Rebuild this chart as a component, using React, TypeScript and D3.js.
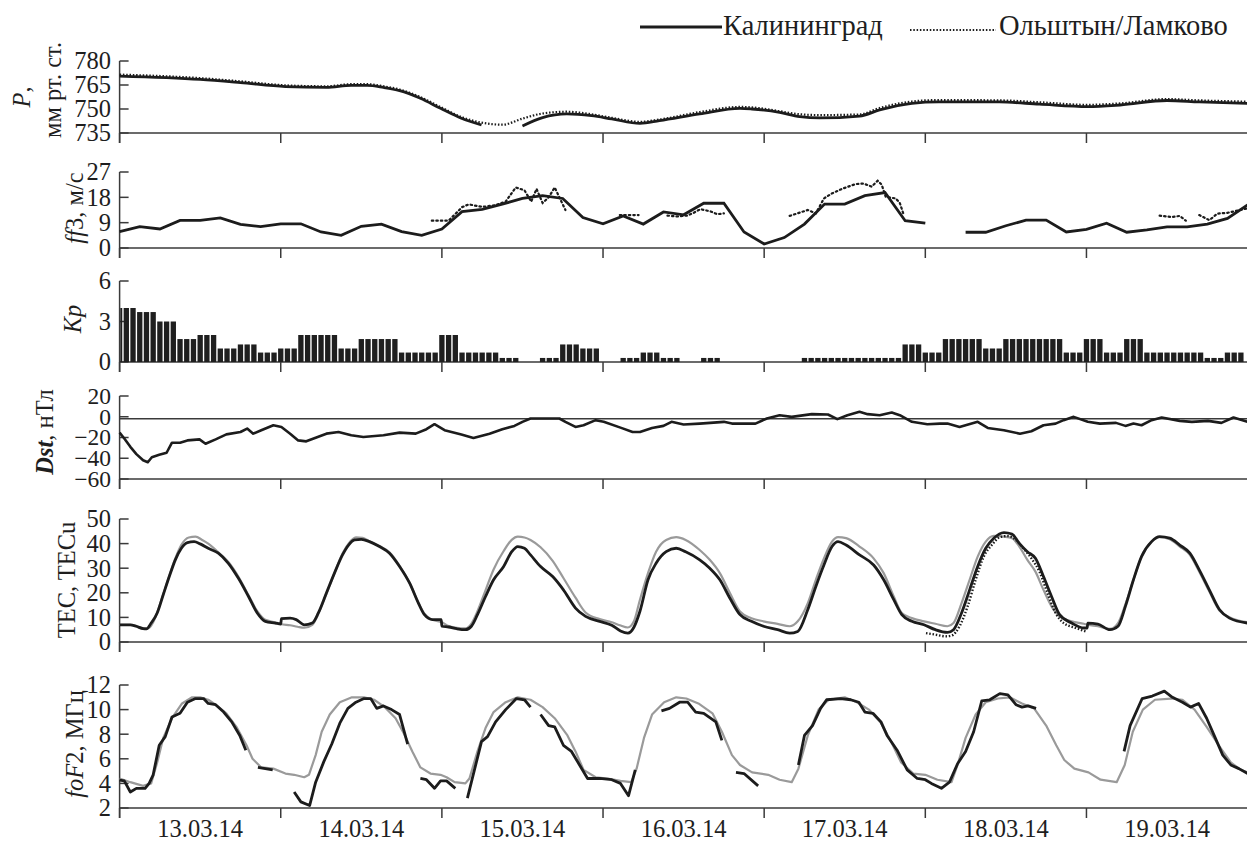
import React from 'react';
import * as d3 from 'd3';

type P2 = [number, number] | null;

// ---------- DATA (hours since 13.03.14 00:00) ----------
const dayLabels = ['13.03.14', '14.03.14', '15.03.14', '16.03.14', '17.03.14', '18.03.14', '19.03.14'];

const pressureKal: P2[] = [[0,770.6],[12,768.5],[18,766.5],[24.7,764],[30.8,763.5],[34.5,764.8],[36.9,764.8],[39.3,763.5],[41.7,761.5],[44.8,756.7],[47.8,750.4],[50.9,744.2],[53.9,740],null,[60,739.4],[63,744.6],[66.6,746.9],[70.3,745.8],[73.3,743.8],[77.5,741],[80.4,742.7],[86.4,746.9],[92.4,750.4],[94.2,750],[98.3,747.9],[101.3,745.2],[104.3,744.4],[110.2,745.6],[113.2,749.4],[118,753.5],[122,754.4],[131,754.4],[137,753],[144.2,751.5],[149,752.5],[156,755.3],[160.8,754.4],[168,753.5]];
const pressureOl: P2[] = [[0,771.5],[12,769.3],[18,767.3],[24.7,764.8],[30.8,764.2],[34.5,765.5],[36.9,765.5],[39.3,764.2],[41.7,762.2],[44.8,757.4],[47.8,751.2],[50.9,745],[53.9,741.5],[57,740.2],[60,744],[63,747.2],[66.6,748.3],[70.3,746.7],[73.3,744.5],[77.5,742],[80.4,743.4],[86.4,748.1],[92.4,751.3],[94.2,751],[98.3,748.6],[101.3,746.7],[104.3,746.2],[110.2,746.6],[113.2,750.6],[118,754.7],[122,755.6],[131,755.4],[137,754.2],[144.2,752.6],[149,753.5],[156,756.2],[160.8,755.4],[168,754.6]];

// 3-hourly wind at Kaliningrad (null = no data)
const windKal: (number | null)[] = [5.8,7.6,6.75,9.8,9.8,10.7,8.4,7.6, 8.6,8.6,5.7,4.5,7.7,8.5,5.8,4.5, 6.75,12.9,13.7,15.6,17.6,18.6,17.6,10.8, 8.6,11.4,8.5,12.8,11.8,15.9,15.9,5.7, 1.4,3.7,8.5,15.6,15.6,18.6,19.7,9.7, 8.8,null,5.6,5.6,7.9,9.9,9.9,5.7, 6.6,8.8,5.6,6.4,7.5,7.5,8.5,10.5, 15.3];
const windOl: P2[] = [[46.5,9.7],[49,9.7],[51,14.5],[52,15.5],[54,14.6],[56,15.2],[57.5,16.5],[59,21.5],[60.3,20.5],[61.3,16.5],[62.1,21],[63,16],[63.9,18],[64.8,21.5],[65.6,17.5],[66.4,13.5],null,[74.5,11.7],[77.3,11.7],null,[81.6,11.5],[83,11.2],[84.5,11.5],[85.5,12.5],[86.5,13.8],[88,13],[89,12],[90,12.3],null,[99.8,11.4],[102.5,13.5],[103.7,12.3],[104.9,17.6],[106,19.3],[107.8,21.2],[109.6,22.7],[110.8,22.9],[112,21.8],[112.9,23.9],[113.5,22.5],[114.1,18.2],[115.6,17.6],[116.2,16],[116.8,11.7],null,[154.9,11.5],[156.7,11],[157.9,11.4],[158.8,9.7],null,[160.8,11.7],[162.3,9.9],[163.5,12.2],[165,12.5],[166.5,13.3],[168,14.1]];

// 3-hourly Kp
const kp3h: number[] = [4,3.7,3,1.7,2,1,1.3,0.7, 1,2,2,1,1.7,1.7,0.7,0.7, 2,0.7,0.7,0.3,0,0.3,1.3,1, 0,0.3,0.7,0.3,0,0.3,0,0, 0,0,0.3,0.3,0.3,0.3,0.3,1.3, 0.7,1.7,1.7,1,1.7,1.7,1.7,0.7, 1.7,0.7,1.7,0.7,0.7,0.7,0.3,0.7];

const dst: P2[] = [[0,-15.3],[0.7,-21],[1.6,-29],[2.5,-36],[3.5,-42],[4.2,-43.8],[4.8,-39],[5.9,-36.7],[7,-34.7],[7.8,-25],[9,-25],[10.1,-22.8],[11.9,-21.8],[12.8,-26],[14.3,-21.8],[15.9,-17],[18,-14.7],[19,-11.4],[19.9,-16.3],[21.1,-13],[22.9,-8.2],[24.1,-9.8],[25.4,-16.3],[26.6,-22.8],[27.8,-23.7],[30.8,-16.3],[32.6,-14.7],[34.5,-17.9],[36.3,-19.5],[39.3,-17.9],[41.7,-15.3],[44.1,-16.3],[45.7,-12],[46.9,-7.2],[48.4,-13],[50.9,-17.2],[52.7,-20.5],[55.1,-16.3],[57,-12],[58.8,-8.8],[60,-4.9],[61.2,-1.7],[65.5,-1.7],[66.4,-4.9],[67.9,-9.8],[69.1,-8.2],[70.9,-3.3],[72.1,-4.9],[74.6,-10.5],[76.4,-14.7],[77.5,-14.7],[79.3,-10.8],[81,-8.8],[82.2,-4.9],[84,-7.5],[86.4,-6.6],[90,-4.9],[91.2,-6.6],[94.7,-6.6],[96.4,-1.7],[98.3,1.5],[100.1,-0.1],[103.1,2.5],[105.5,2.2],[106.9,-2.3],[108.4,1.5],[110.2,4.8],[111.4,2.5],[113.2,1.5],[115,4.1],[116.2,1.5],[118,-4.9],[120.3,-7.2],[122.2,-6.6],[123.3,-6.6],[125.1,-9.8],[127.8,-4.9],[129.3,-10.8],[131.7,-13],[134.1,-16.3],[135.8,-14],[137.6,-8.2],[139.4,-6.6],[140.6,-3.3],[142.1,-0.1],[144.2,-4.9],[146,-6.6],[148.4,-5.9],[149.8,-8.8],[151,-6.6],[152.2,-8.2],[153.7,-3.3],[155.2,-0.7],[157.9,-4],[159.7,-4.9],[162.1,-4],[164.1,-5.9],[165.9,-0.7],[168,-4.9]];
const dstRef = -2;

const tecKal: P2[] = [[0,7],[1.6,7],[2.5,6.4],[3.5,5.4],[4,5.3],[4.7,7.7],[5.6,11.8],[6.5,19.2],[7.4,26.6],[8.3,33.4],[9.2,38.1],[10.1,40.4],[11.1,40.8],[12,39.9],[13.2,38.1],[14.7,36.1],[16.2,32],[17.7,25.9],[19.2,18.5],[20.5,11.8],[21.7,8.4],[23.2,7.7],[24,7.3],[24.1,9.5],[25.4,9.7],[26.3,9.1],[27.5,7],[28.7,7.7],[29.6,11.8],[30.8,19.9],[32,28],[33.2,35.4],[34.1,39.4],[35,41.5],[36,41.7],[37.2,40.8],[38.7,38.8],[40.2,36.1],[41.7,30.7],[43.2,23.9],[44.5,15.8],[45.4,11.1],[46.6,9.1],[47.9,9.1],[48,6.4],[49,6.1],[50.2,5.4],[51.5,5],[52.4,6.4],[53.3,11.1],[54.5,18.5],[55.7,25.3],[57.2,30.7],[58.4,36.7],[59.3,38.8],[60.3,38.1],[61.2,35.4],[62.7,30.7],[64.5,26.6],[66.1,21.2],[67.9,13.8],[69.4,10.4],[71.5,8.4],[73.3,6.8],[74.6,4.5],[75.7,3.6],[76.6,6],[77.5,12.5],[78.7,25.3],[79.9,32],[81.4,36.7],[82.9,38.1],[84.3,36.7],[86.4,33.4],[87.9,30],[89.4,25.3],[90.9,17.8],[92.4,11.1],[94.1,8.4],[95.9,6.4],[98,5],[99.8,3.6],[101,4.3],[102.5,13.2],[103.7,22.6],[104.9,31.3],[106.1,38.8],[107,40.8],[108.2,39.4],[110.2,35.4],[112.3,31.3],[113.8,25.3],[115.3,17.2],[116.5,11.1],[118,8.4],[119.8,7],[121.5,5],[123.3,3.9],[124.2,5],[125.4,11.8],[126.6,21.2],[127.8,30.7],[129,38.1],[130.2,42.2],[131.7,44.5],[132.9,43.9],[134,40.1],[135.2,36.7],[136.4,34],[137.6,26.6],[138.8,18.5],[140,11.1],[141.8,7.7],[143.6,5.7],[144.1,5.7],[144.2,7.7],[145.7,7.3],[147.5,5],[148.7,6.4],[149.8,14.5],[151,25.3],[152.2,34.7],[153.7,40.8],[154.9,42.8],[156.4,42.2],[157.9,39.4],[159.4,36.1],[160.8,29.3],[162.3,21.2],[163.8,13.2],[165.3,9.7],[168,7.7]];
const tecGrey: P2[] = [[0,7],[1.6,7],[2.5,6.4],[3.5,5.6],[4.3,5.6],[5,8],[5.6,12],[6.5,19.5],[7.4,27],[8.3,34],[9.2,39.5],[10.3,42.5],[11.3,42.8],[12.3,41.5],[13.2,40],[14.7,36.5],[16.2,32.5],[17.7,26.5],[19.2,19],[20.5,12.5],[21.7,9],[23.2,8],[24,7.3],[25.4,6.8],[26.5,6.2],[27.5,5.8],[28.7,7],[29.6,11.5],[30.8,19.5],[32,28],[33.2,36],[34.1,40],[35.2,42.5],[36.2,42.3],[37.2,41],[38.7,39],[40.2,36.5],[41.7,31],[43.2,24],[44.5,16],[45.4,11.5],[46.6,9],[48,8],[49,6.5],[50.2,5.8],[51.5,5.5],[52.4,7.5],[53.3,12.5],[54.5,21],[55.7,29.5],[57.2,37],[58.4,41.5],[59.3,42.8],[60.3,42.5],[61.2,41.5],[62.7,38.5],[64.5,33],[66.1,26],[67.9,18],[69.4,12],[71.5,9.3],[73.3,8],[74.5,6.8],[75.7,5.9],[76.6,8.4],[77.5,17.2],[78.7,28],[79.9,36.7],[81.4,41.5],[82.9,42.6],[84.3,41.5],[86.4,37.4],[87.9,33.4],[89.4,28],[90.9,19.9],[92.4,12.4],[94.1,9.7],[95.9,8.4],[98,7.4],[99.8,6.4],[101,8.4],[102.5,15.8],[103.7,25.3],[104.9,34],[106.1,40.8],[107,42.6],[108.2,42.2],[110.2,38.8],[112.3,34],[113.8,28],[115.3,18.5],[116.5,11.8],[118,9.7],[119.8,8.4],[121.5,7.4],[123.3,6.4],[124.2,7.7],[125.4,15.8],[126.6,25.3],[127.8,34.7],[129,40.8],[130.2,43.1],[131.7,42.8],[132.9,42.2],[134,38.8],[135.2,33.4],[136.4,28.6],[137.6,21.2],[138.8,14.5],[140,10.4],[141.8,8.4],[143.6,7.4],[144.2,7],[145.7,6.4],[147.5,5.3],[148.7,7.7],[149.8,15.3],[151,25.3],[152.2,34.7],[153.7,40.8],[154.9,42.6],[156.4,41.8],[157.9,38.8],[159.4,35.4],[160.8,28.6],[162.3,20.5],[163.8,12.8],[165.3,10.1],[168,8]];
const tecOl: P2[] = [[120.1,3.6],[121.5,3],[123,2.3],[123.9,2.6],[125.1,6.4],[126.3,14.5],[127.5,25.3],[128.7,34.7],[129.9,39.4],[131.1,42.6],[132.3,43.1],[133.5,41.5],[134.6,38.1],[135.8,34],[137,28.6],[138.2,19.9],[139.4,11.8],[140.6,7.7],[142.4,5.7],[143.9,4.3]];

const fof2Kal: P2[] = [[0,4.26],[0.7,4.2],[1.6,3.3],[2.5,3.6],[3.8,3.6],[4.4,4],[5,4.7],[5.9,7.1],[6.8,7.8],[7.8,9.4],[9,9.7],[10.1,10.6],[11.3,10.9],[12.5,10.9],[13.2,10.5],[14.3,10.4],[15.5,9.8],[16.7,9],[17.9,7.9],[18.8,6.7],null,[20.6,5.3],[22.8,5.1],null,[26,3.3],[27,2.5],[28.3,2.2],[29.2,4.1],[30.4,5.75],[31.6,7.2],[32.8,8.9],[34,10.1],[35.2,10.6],[36.4,10.9],[37.4,10.9],[38.3,10.1],[39.3,10.3],[40.5,10],[41.7,9.6],[42.9,7.2],null,[44.8,4.4],[45.7,4.3],[46.9,3.6],[47.8,4.2],[48.7,4.2],[50,3.6],null,[51.8,2.8],[53.9,7.4],[54.8,7.8],[56,9],[57.5,10],[59.1,10.9],[60.3,10.8],[61.2,10.2],null,[62.7,9.6],[63.9,8.7],[64.8,8.6],[66.1,7.1],[67.3,6.6],[68.5,5.5],[69.7,4.4],[71.5,4.4],[73.3,4.3],[74.6,4],[75.8,3],[76.8,5.1],null,[80.7,9.9],[81.9,10.1],[83.4,10.6],[84.6,10.6],[85.8,9.8],[87,9.7],[88.8,9],[89.7,7.5],null,[91.8,4.9],[93,4.8],[95.1,3.8],null,[101.1,5.5],[102,7.9],[103.2,8.7],[104.4,10.1],[105.3,10.8],[107.4,10.9],[108.9,10.8],[110.1,10.6],[111,9.8],[112.2,9.7],[113.4,9],[114.3,7.9],[115.8,6.7],[117.3,5.1],[118.8,4.4],[120,4.3],[120.9,4],[122.4,3.6],[123.6,4.1],[124.8,5.6],[126,6.6],[127.2,8.2],[128.4,10.7],[129.6,10.8],[131.1,11.3],[132.3,11.2],[133.5,10.4],[134.4,10.2],[135.3,10.3],[136.5,10.1],null,[149.6,6.6],[150.5,8.7],[152.3,10.9],[153.8,11.1],[155.6,11.5],[156.8,11],[158.3,10.6],[159.5,10.2],[160.7,10.5],[161.9,9.3],[163.1,7.8],[164.3,6.3],[165.5,5.5],[166.7,5.2],[168,4.8]];
const fof2Grey: P2[] = [[0,4.4],[1.6,4.1],[3.5,3.8],[4.7,4],[5.6,5.7],[6.5,7.7],[7.8,9.3],[9.3,10.5],[10.8,11],[12,11],[13.2,10.8],[14.3,10.4],[15.9,9.7],[17.4,8.6],[18.9,7.1],[19.8,6],[21.1,5.3],[22.9,5.2],[24.7,4.8],[26,4.7],[27.5,4.5],[28.2,4.7],[29.2,6.3],[30.1,8.2],[31.3,9.6],[32.8,10.6],[34.6,11],[36.4,11],[37.9,10.8],[39.5,10.2],[41.1,9.3],[42.3,8.1],[43.6,6.6],[44.8,5.3],[46.3,4.8],[47.8,4.7],[48.7,4.5],[49.9,4.1],[51.5,4],[52.1,4.4],[53.3,6.6],[54.5,8.5],[55.7,9.8],[57.5,10.6],[59.3,11],[61.2,10.8],[63,10.2],[64.8,9.3],[66.7,7.9],[67.9,6.6],[69.1,5.1],[70.9,4.5],[72.7,4.4],[74.6,4.2],[76.2,4.1],[77,5.2],[78.1,7.7],[79.3,9.6],[81.1,10.6],[82.9,11],[84.4,10.9],[86.2,10.5],[88.3,9.7],[89.7,8.2],[91.2,6.3],[92.4,5.5],[94.2,4.9],[96.6,4.7],[98.3,4.3],[100.1,4.1],[101.1,5.2],[102.5,7.9],[104.1,10],[105.6,10.8],[108,11],[109.8,10.6],[111.6,10],[113.4,8.9],[114.9,7.4],[116.4,5.7],[118.2,4.8],[120,4.7],[121.8,4.3],[123.9,4.1],[124.8,5.5],[126,7.7],[127.5,9.6],[129,10.6],[130.8,10.9],[132.6,11],[134.4,10.5],[136.2,10.1],[138,8.7],[139.5,7.1],[140.7,5.9],[142.2,5.2],[144.3,4.9],[146.1,4.3],[148.5,4.1],[149.7,5.5],[150.9,8.2],[152.4,10],[154.2,10.8],[156.6,10.9],[158.3,10.8],[160.1,10],[161.9,8.6],[163.7,7.1],[165.5,5.7],[167,5.1],[168,4.9]];

const ticksP = [780, 765, 750, 735];
const ticksWind = [27, 18, 9, 0];
const ticksKp = [6, 3, 0];
const ticksDst = [20, 0, -20, -40, -60];
const ticksTec = [50, 40, 30, 20, 10, 0];
const ticksFof2 = [12, 10, 8, 6, 4, 2];

// ---------- LAYOUT ----------
const W = 1247, H = 842;
const X0 = 119.6, X1 = 1247.6;
const FONT = 'Liberation Serif';
const x = d3.scaleLinear().domain([0, 168]).range([X0, X1]);

const yP = d3.scaleLinear().domain([735, 780]).range([133, 61]);
const yW = d3.scaleLinear().domain([0, 27]).range([248, 172]);
const yK = d3.scaleLinear().domain([0, 6]).range([362, 281]);
const yD = d3.scaleLinear().domain([-60, 20]).range([479, 396]);
const yT = d3.scaleLinear().domain([0, 50]).range([642, 519]);
const yF = d3.scaleLinear().domain([2, 12]).range([808, 685]);

const BLACK = '#1c1c1c';
const GREY = '#9a9a9a';
const AXIS = '#3a3a3a';
const TXT = '#1e1e1e';

function mkLine(y: d3.ScaleLinear<number, number>, smooth: boolean) {
  const l = d3.line<P2>()
    .defined((d) => d !== null)
    .x((d) => x((d as [number, number])[0]))
    .y((d) => y((d as [number, number])[1]));
  return smooth ? l.curve(d3.curveMonotoneX) : l;
}

const fmt = (v: number) => (v < 0 ? '\u2212' + Math.abs(v) : String(v));

function Axis({ y, ticks, fs = 24.5 }: { y: d3.ScaleLinear<number, number>; ticks: number[]; fs?: number }) {
  const [d0, d1] = y.domain();
  const yb = y(d0), yt = y(d1);
  const days = d3.range(0, 7).map((d) => d * 24);
  return (
    <g>
      <line x1={X0} x2={X0} y1={yt} y2={yb + 10} stroke={AXIS} strokeWidth={1.5} />
      <line x1={X0} x2={W} y1={yb} y2={yb} stroke={AXIS} strokeWidth={1.5} />
      {days.map((h) => (
        <line key={h} x1={x(h)} x2={x(h)} y1={yb} y2={yb + 10} stroke={AXIS} strokeWidth={1.5} />
      ))}
      {ticks.map((t) => (
        <g key={t}>
          <line x1={X0} x2={X0 + 9} y1={y(t)} y2={y(t)} stroke={AXIS} strokeWidth={1.5} />
          <text x={111} y={y(t)} dy="0.34em" textAnchor="end" fontSize={fs} fontFamily={FONT} fill={TXT}>
            {fmt(t)}
          </text>
        </g>
      ))}
    </g>
  );
}

function VLabel({ bx, cy, children }: { bx: number; cy: number; children: React.ReactNode }) {
  return (
    <text transform={`translate(${bx},${cy}) rotate(-90)`} textAnchor="middle" fontSize={24.5} fontFamily={FONT} fill={TXT}>
      {children}
    </text>
  );
}

export default function App() {
  const windPts: P2[] = windKal.map((v, i) => (v === null ? null : [i * 3, v] as [number, number]));
  const kpBars = d3.range(0, 168).map((t) => ({ t, v: kp3h[Math.floor(t / 3)] })).filter((b) => b.v > 0);

  return (
    <svg width={W} height={H} style={{ position: 'absolute', left: 0, top: 0, background: '#fff' }}>
      <rect width={W} height={H} fill="#fff" />
      {/* Legend */}
      <line x1={640} x2={722} y1={27} y2={27} stroke={BLACK} strokeWidth={3} />
      <text x={723} y={35} fontSize={28.5} fontFamily={FONT} fill={TXT}>Калининград</text>
      <line x1={910} x2={996} y1={30} y2={30} stroke={BLACK} strokeWidth={2} strokeDasharray="1.5 1.8" />
      <text x={999} y={35} fontSize={28.5} fontFamily={FONT} fill={TXT}>Ольштын/Ламково</text>

      {/* Pressure */}
      <Axis y={yP} ticks={ticksP} />
      <path d={mkLine(yP, true)(pressureOl) || ''} fill="none" stroke={BLACK} strokeWidth={2.2} strokeDasharray="1.5 1.8" />
      <path d={mkLine(yP, true)(pressureKal) || ''} fill="none" stroke={BLACK} strokeWidth={2.8} />
      <VLabel bx={30} cy={97}><tspan fontStyle="italic">P</tspan>,</VLabel>
      <VLabel bx={61} cy={90}>мм рт. ст.</VLabel>

      {/* Wind */}
      <Axis y={yW} ticks={ticksWind} />
      <path d={mkLine(yW, false)(windOl) || ''} fill="none" stroke={BLACK} strokeWidth={2.2} strokeDasharray="1.5 3" strokeLinecap="round" />
      <path d={mkLine(yW, false)(windPts) || ''} fill="none" stroke={BLACK} strokeWidth={2.8} />
      <VLabel bx={83} cy={208}><tspan fontStyle="italic">ff</tspan>3, м/с</VLabel>

      {/* Kp */}
      <Axis y={yK} ticks={ticksKp} />
      {kpBars.map((b) => {
        const xa = Math.max(x(b.t - 0.5), X0) + 0.7;
        const xb = x(b.t + 0.5) - 0.7;
        return <rect key={b.t} x={xa} y={yK(b.v)} width={Math.max(0, xb - xa)} height={yK(0) - yK(b.v)} fill="#1f1f1f" />;
      })}
      <VLabel bx={81} cy={319}><tspan fontStyle="italic">Kp</tspan></VLabel>

      {/* Dst */}
      <Axis y={yD} ticks={ticksDst} fs={23.5} />
      <line x1={X0} x2={W} y1={yD(dstRef)} y2={yD(dstRef)} stroke={AXIS} strokeWidth={1.5} />
      <path d={mkLine(yD, false)(dst) || ''} fill="none" stroke={BLACK} strokeWidth={2.6} strokeLinejoin="round" />
      <VLabel bx={53} cy={432}><tspan fontStyle="italic" fontWeight="bold">Dst</tspan>, нТл</VLabel>

      {/* TEC */}
      <Axis y={yT} ticks={ticksTec} />
      <path d={mkLine(yT, true)(tecGrey) || ''} fill="none" stroke={GREY} strokeWidth={2.2} />
      <path d={mkLine(yT, true)(tecOl) || ''} fill="none" stroke={BLACK} strokeWidth={2.4} strokeDasharray="1.5 1.8" />
      <path d={mkLine(yT, true)(tecKal) || ''} fill="none" stroke={BLACK} strokeWidth={2.8} />
      <VLabel bx={75} cy={580}>TEC, TECu</VLabel>

      {/* foF2 */}
      <Axis y={yF} ticks={ticksFof2} />
      <path d={mkLine(yF, false)(fof2Grey) || ''} fill="none" stroke={GREY} strokeWidth={2.2} strokeLinejoin="round" />
      <path d={mkLine(yF, false)(fof2Kal) || ''} fill="none" stroke={BLACK} strokeWidth={2.8} strokeLinejoin="round" />
      <VLabel bx={83} cy={744}><tspan fontStyle="italic">foF</tspan>2, МГц</VLabel>

      {/* Date labels */}
      {dayLabels.map((lab, i) => (
        <text key={lab} x={x(i * 24 + 12)} y={837} textAnchor="middle" fontSize={24.5} fontFamily={FONT} fill={TXT}>
          {lab}
        </text>
      ))}
    </svg>
  );
}
